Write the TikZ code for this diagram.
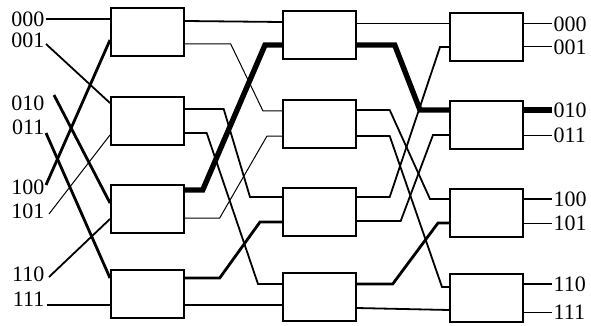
\documentclass[tikz,border=0pt]{standalone}
\usepackage{fontspec}
\setmainfont{Liberation Serif}
\newfontfamily\lblfont{Liberation Serif}
\usetikzlibrary{calc}

\begin{document}
\begin{tikzpicture}[x=1pt,y=-1pt,
  box/.style={draw,line width=1.7pt,minimum width=73pt,minimum height=48pt,inner sep=0pt,anchor=north west},
  lbl/.style={inner sep=1.5pt,font=\lblfont\fontsize{22}{22}\selectfont},
  thn/.style={line width=1pt},
  med/.style={line width=1.8pt},
  thk/.style={line width=2.8pt},
  hot/.style={line width=5.4pt}]
\useasboundingbox (0,0) rectangle (591,326);

% switch boxes, three stages
\node[box] (a1) at (110,7) {};
\node[box] (a2) at (110,96) {};
\node[box] (a3) at (110,184) {};
\node[box] (a4) at (110,269) {};

\node[box] (b1) at (282,10) {};
\node[box] (b2) at (282,99) {};
\node[box] (b3) at (282,187) {};
\node[box] (b4) at (282,272) {};

\node[box] (c1) at (449,12) {};
\node[box] (c2) at (449,100) {};
\node[box] (c3) at (449,188) {};
\node[box] (c4) at (449,273) {};

% input labels
\node[lbl,anchor=east] (i000) at (46,19) {000};
\node[lbl,anchor=east] (i001) at (46,40) {001};
\node[lbl,anchor=east] (i010) at (46,103) {010};
\node[lbl,anchor=east] (i011) at (46,127) {011};
\node[lbl,anchor=east] (i100) at (46,187) {100};
\node[lbl,anchor=east] (i101) at (46,211) {101};
\node[lbl,anchor=east] (i110) at (46,274) {110};
\node[lbl,anchor=east] (i111) at (46,299) {111};

% output labels
\node[lbl,anchor=west] (o000) at (552,24) {000};
\node[lbl,anchor=west] (o001) at (552,47) {001};
\node[lbl,anchor=west] (o010) at (552,110) {010};
\node[lbl,anchor=west] (o011) at (552,135) {011};
\node[lbl,anchor=west] (o100) at (552,199) {100};
\node[lbl,anchor=west] (o101) at (552,223) {101};
\node[lbl,anchor=west] (o110) at (552,284) {110};
\node[lbl,anchor=west] (o111) at (552,312) {111};

% inputs into stage 1
\draw[med] (i000.east) -- ($(a1.north west)+(0,12)$);
\draw[med] ($(i001.east)+(0,4)$) -- ($(a2.north west)+(0,7)$);
\draw[thk] ($(i010.east)+(8,-8)$) -- ($(a3.north west)+(0,19)$);
\draw[thk] ($(i011.east)+(0,6)$) -- ($(a4.north west)+(0,9)$);
\draw[thk] ($(i100.east)+(0,-2)$) -- ($(a1.north west)+(0,33)$);
\draw[thn] ($(i101.east)+(3,3)$) -- ($(a2.north west)+(0,39)$);
\draw[med] ($(i110.east)+(3,3)$) -- ($(a3.north west)+(0,35)$);
\draw[med] ($(i111.east)+(1,6)$) -- ($(a4.north west)+(0,36)$);

% stage 1 -> stage 2
\draw[med] ($(a1.north east)+(0,14)$) -- ($(b1.north west)+(0,12)$);
\draw[thn] ($(a1.north east)+(0,37)$) -- ++(46,0) -- ($(b2.north west)+(-19,12)$) -- ++(19,0);
\draw[med] ($(a2.north east)+(0,13)$) -- ++(39,0) -- ($(b3.north west)+(-32,10)$) -- ++(32,0);
\draw[med] ($(a2.north east)+(0,37)$) -- ++(22,0) -- ($(b4.north west)+(-24,12)$) -- ++(24,0);
\draw[thn] ($(a3.north east)+(0,34)$) -- ++(35,0) -- ($(b2.north west)+(-15,37)$) -- ++(15,0);
\draw[thk] ($(a4.north east)+(0,9)$) -- ++(35,0) -- ($(b3.north west)+(-22,35)$) -- ++(22,0);
\draw[med] ($(a4.north east)+(0,36)$) -- ($(b4.north west)+(0,33)$);

% stage 2 -> stage 3
\draw[thn] ($(b1.north east)+(0,14)$) -- ($(c1.north west)+(0,12)$);
\draw[med] ($(b2.north east)+(0,11)$) -- ++(33,0) -- ($(c3.north west)+(-19,11)$) -- ++(19,0);
\draw[med] ($(b2.north east)+(0,37)$) -- ++(33,0) -- ($(c4.north west)+(-7,14)$) -- ++(7,0);
\draw[med] ($(b3.north east)+(0,10)$) -- ++(33,0) -- ($(c1.north west)+(-9,35)$) -- ++(9,0);
\draw[med] ($(b3.north east)+(0,34)$) -- ++(44,0) -- ($(c2.north west)+(-16,35)$) -- ++(16,0);
\draw[thk] ($(b4.north east)+(0,12)$) -- ++(36,0) -- ($(c3.north west)+(-11,35)$) -- ++(11,0);
\draw[med] ($(b4.north east)+(0,36)$) -- ($(c4.north west)+(0,37)$);

% routed path
\draw[hot] ($(a3.north east)+(0,6)$) -- ++(18,0) -- ($(b1.north west)+(-17,35)$) -- ++(17,0);
\draw[hot] ($(b1.north east)+(0,35)$) -- ++(38,0) -- ($(c2.north west)+(-29,10)$) -- ++(29,0);

% stage 3 outputs
\draw[thn] ($(c1.north east)+(0,12)$) -- (o000.west);
\draw[thn] ($(c1.north east)+(0,35)$) -- (o001.west);
\draw[hot] ($(c2.north east)+(0,10)$) -- (o010.west);
\draw[thn] ($(c2.north east)+(0,35)$) -- (o011.west);
\draw[med] ($(c3.north east)+(0,11)$) -- (o100.west);
\draw[thn] ($(c3.north east)+(0,35)$) -- (o101.west);
\draw[med] ($(c4.north east)+(0,11)$) -- (o110.west);
\draw[thn] ($(c4.north east)+(0,39)$) -- (o111.west);

\end{tikzpicture}
\end{document}
